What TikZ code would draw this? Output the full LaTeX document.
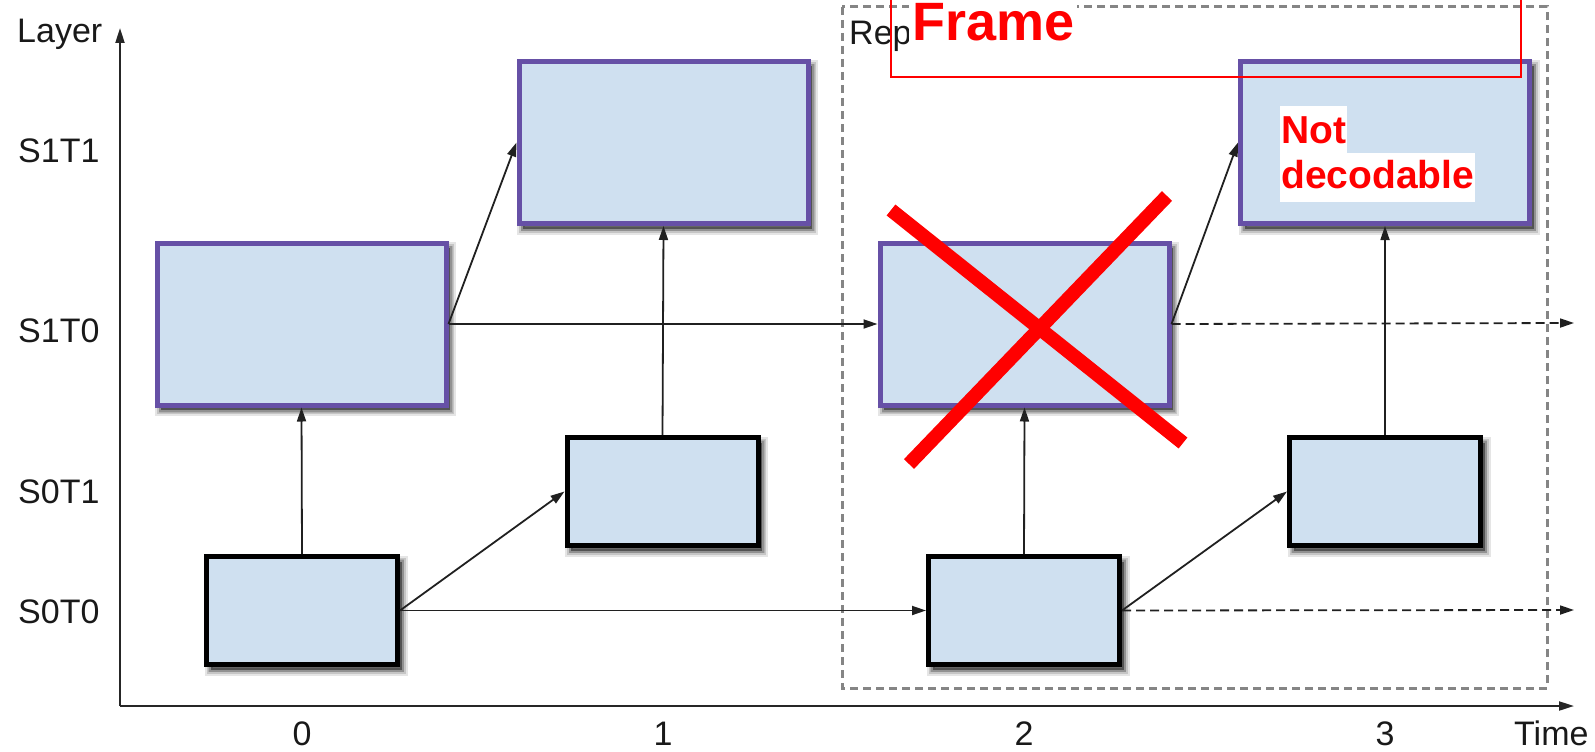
\documentclass[tikz,border=0pt]{standalone}
\usepackage{fontspec}
\setmainfont{Liberation Sans}
\usetikzlibrary{arrows.meta}
\definecolor{boxfill}{HTML}{CFE0F0}
\definecolor{s1edge}{HTML}{6650A6}
\definecolor{framegray}{HTML}{858585}
\definecolor{linkgray}{HTML}{202020}
\definecolor{alertred}{HTML}{FF0000}

\begin{document}
\begin{tikzpicture}[x=1pt,y=-1pt,
  softshadow/.style={preaction={draw=black, fill=black, opacity=#1,
      transform canvas={xshift=4pt, yshift=-5pt}}},
  layerbox/.style={line width=5pt, fill=boxfill, inner sep=0pt,
    softshadow=0.10,
    preaction={draw=black, fill=black, opacity=0.10, line width=12pt,
      transform canvas={xshift=4pt, yshift=-5pt}},
    preaction={draw=black, fill=black, opacity=0.14, line width=8pt,
      transform canvas={xshift=4pt, yshift=-5pt}},
    preaction={draw=black, fill=black, opacity=0.18, line width=4pt,
      transform canvas={xshift=4pt, yshift=-5pt}}},
  upper/.style={draw=s1edge, layerbox, minimum width=289pt, minimum height=162pt},
  lower/.style={draw=black, layerbox, minimum width=191pt, minimum height=108pt},
  link/.style={draw=linkgray, line width=1.8pt, -{Triangle[length=14pt,width=9pt]}},
  futurelink/.style={link, dash pattern=on 9pt off 5pt},
  axisline/.style={draw=black!85, line width=2pt, -{Triangle[length=15pt,width=9pt]}},
  lbl/.style={font=\fontsize{34}{40}\selectfont, text=black!90, inner sep=0pt},
  alert/.style={font=\fontsize{#1}{#1}\bfseries, text=alertred, fill=white},
  cross/.style={draw=alertred, line width=14pt}
]
\useasboundingbox (0,0) rectangle (1595,752);

% axes
\coordinate (origin) at (120,706);
\coordinate (ytip) at (120,28);
\coordinate (xtip) at (1574,706);
\draw[axisline] (origin) -- (ytip);
\draw[axisline] (origin) -- (xtip);
\node[lbl, anchor=base west] (ylab) at (17,43) {Layer};
\node[lbl, anchor=base west] (xlab) at (1514,745) {Time};

% layer labels
\node[lbl, anchor=base west] (l11) at (18,162) {S1T1};
\node[lbl, anchor=base west] (l10) at (18,342) {S1T0};
\node[lbl, anchor=base west] (l01) at (18,503) {S0T1};
\node[lbl, anchor=base west] (l00) at (18,623) {S0T0};

% time labels
\node[lbl, anchor=base] (t0) at (302,745) {0};
\node[lbl, anchor=base] (t1) at (663,745) {1};
\node[lbl, anchor=base] (t2) at (1024,745) {2};
\node[lbl, anchor=base] (t3) at (1385,745) {3};

% repair region
\draw[framegray, line width=3pt, dash pattern=on 8pt off 5pt] (842,7) rectangle (1547,688);
\node[lbl, anchor=base west] (rep) at (849,45) {Rep};

% frames
\node[upper] (a) at (301.5,324) {};
\node[upper] (b) at (663.5,142.5) {};
\node[upper] (c) at (1024.5,324) {};
\node[upper] (d) at (1385,142.5) {};
\node[lower] (e) at (302,610.5) {};
\node[lower] (f) at (662.5,491.5) {};
\node[lower] (g) at (1024,610.5) {};
\node[lower] (h) at (1385,491.5) {};

% dependencies
\draw[link] (e.north) -- (a.south);
\draw[link] (f.north) -- (b.south);
\draw[link] (g.north) -- (c.south);
\draw[link] (h.north) -- (d.south);
\draw[link] (a.east) -- (b.west);
\draw[link] (a.east) -- (c.west);
\draw[link] (c.east) -- (d.west);
\draw[link] (e.east) -- (f.west);
\draw[link] (e.east) -- (g.west);
\draw[link] (g.east) -- (h.west);
\coordinate (c-next) at (1574,323);
\coordinate (g-next) at (1574,610);
\draw[futurelink] (c.east) -- (c-next);
\draw[futurelink] (g.east) -- (g-next);

% lost frame
\coordinate (x1a) at (891,210);
\coordinate (x1b) at (1183,443);
\coordinate (x2a) at (1167,196);
\coordinate (x2b) at (909,464);
\draw[cross] (x1a) -- (x1b);
\draw[cross] (x2a) -- (x2b);

% annotation box and labels
\draw[alertred, line width=1.5pt] (891,-3) -- (891,77) -- (1521,77) -- (1521,-3);
\node[alert=54, anchor=base west, inner xsep=3pt, inner ysep=0pt, text height=45pt, text depth=8pt] (frame) at (909,41) {Frame};
\node[alert=39, anchor=base west, inner xsep=1pt, inner ysep=0pt, text height=37pt, text depth=10pt] (nd1) at (1280,143) {Not};
\node[alert=39, anchor=base west, inner xsep=1pt, inner ysep=0pt, text height=35pt, text depth=14pt] (nd2) at (1280,188) {decodable};
\end{tikzpicture}
\end{document}
